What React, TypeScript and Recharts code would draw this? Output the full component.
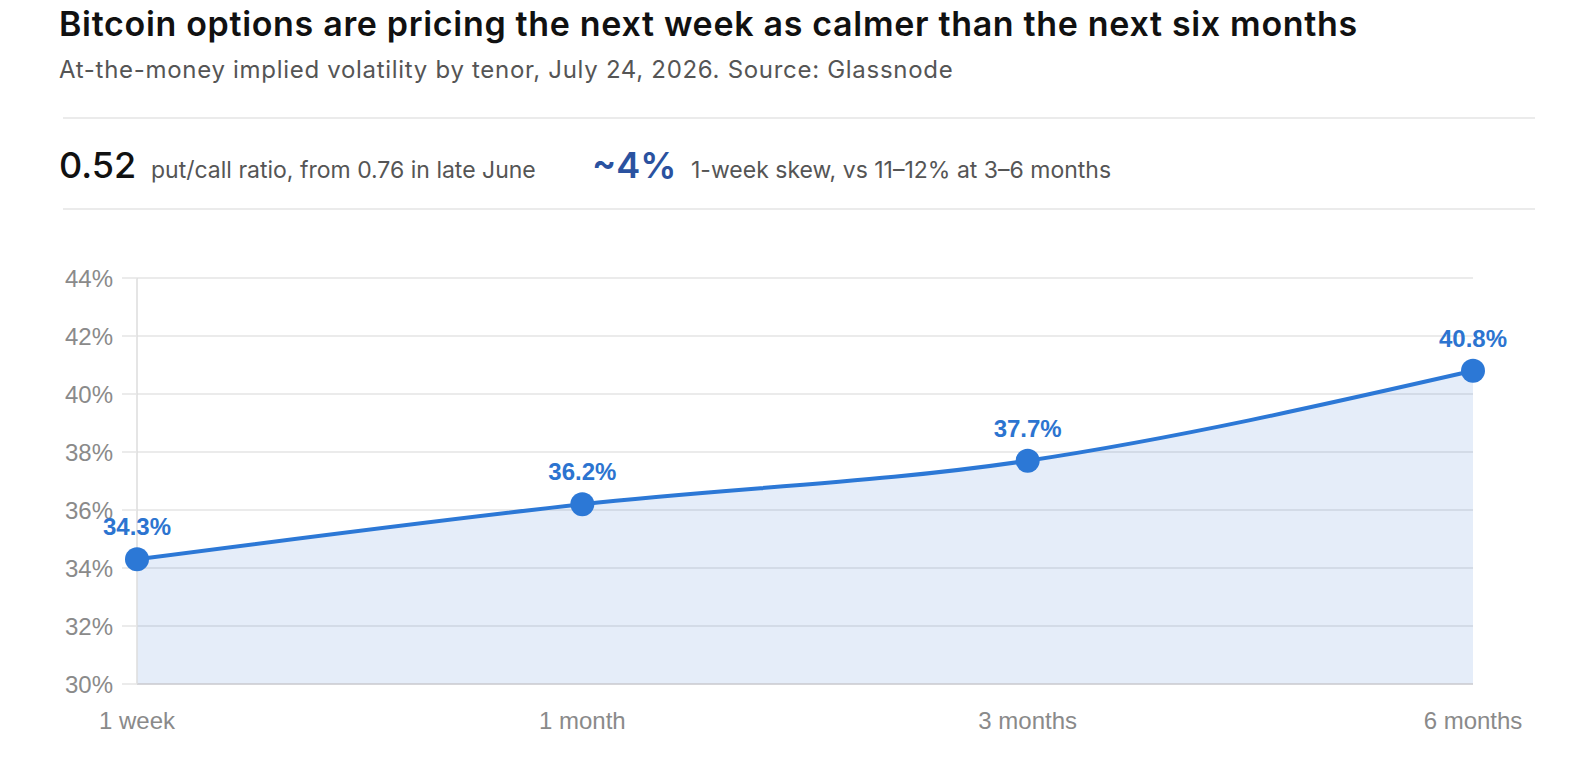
import React from "react";
import { Area, AreaChart, CartesianGrid, LabelList, XAxis, YAxis } from "recharts";

const tenors = ["1 week", "1 month", "3 months", "6 months"];
const impliedVol = [34.3, 36.2, 37.7, 40.8];
const yTicks = [30, 32, 34, 36, 38, 40, 42, 44];

const data = tenors.map((tenor, i) => ({ tenor, iv: impliedVol[i] }));

const sans = "Inter, 'Noto Sans', sans-serif";
const axisFont = "'Liberation Sans', Arial, sans-serif";
const blue = "#2c78d6";

function Header() {
  return (
    <svg width={1596} height={230} style={{ position: "absolute", left: 0, top: 0 }}>
      <text x={59} y={36} fontFamily={sans} fontSize={34} fontWeight={600} letterSpacing={0.68} fill="#111">
        Bitcoin options are pricing the next week as calmer than the next six months
      </text>
      <text x={59} y={78} fontFamily={sans} fontSize={24} letterSpacing={0.7} fill="#555">
        At-the-money implied volatility by tenor, July 24, 2026. Source: Glassnode
      </text>
      <line x1={63} x2={1535} y1={118} y2={118} stroke="#e4e4e4" strokeWidth={1.5} />
      <text x={59} y={178} fontFamily={sans} fontSize={36} fontWeight={500} fill="#111">
        0.52
      </text>
      <text x={151} y={178} fontFamily={sans} fontSize={23} fill="#555">
        put/call ratio, from 0.76 in late June
      </text>
      <text x={592} y={178} fontFamily={sans} fontSize={36} fontWeight={600} fill="#2a52a0">
        ~4%
      </text>
      <text x={691} y={178} fontFamily={sans} fontSize={23} fill="#555">
        1-week skew, vs 11–12% at 3–6 months
      </text>
      <line x1={63} x2={1535} y1={209} y2={209} stroke="#e4e4e4" strokeWidth={1.5} />
    </svg>
  );
}

export default function App() {
  return (
    <div style={{ position: "fixed", left: 0, top: 0, width: 1596, height: 768, background: "#fff" }}>
      <Header />
      <div style={{ position: "absolute", left: 0, top: 230 }}>
        <AreaChart width={1596} height={538} data={data} margin={{ top: 48, right: 123, bottom: 44, left: 0 }}>
          <CartesianGrid vertical={false} stroke="#e4e4e4" strokeWidth={1.5} />
          <XAxis
            dataKey="tenor"
            scale="point"
            padding={{ left: 0, right: 0 }}
            height={40}
            axisLine={{ stroke: "#cfcfd4", strokeWidth: 1.5 }}
            tickLine={false}
            tickSize={0}
            tickMargin={28}
            tick={{ fill: "#8a8a8a", fontSize: 24, fontFamily: axisFont }}
          />
          <YAxis
            width={137}
            domain={[30, 44]}
            ticks={yTicks}
            tickFormatter={(v) => `${v}%`}
            axisLine={{ stroke: "#dcdcdc", strokeWidth: 1.5 }}
            tickLine={{ stroke: "#e4e4e4", strokeWidth: 1.5 }}
            tickSize={15}
            tickMargin={9}
            tick={{ fill: "#8a8a8a", fontSize: 24, fontFamily: axisFont }}
          />
          <Area
            type="monotone"
            dataKey="iv"
            stroke={blue}
            strokeWidth={4}
            fill="#2c6fd0"
            fillOpacity={0.12}
            dot={{ r: 12, fill: blue, stroke: blue, strokeWidth: 0, fillOpacity: 1 }}
            activeDot={false}
            isAnimationActive={false}
          >
            <LabelList
              dataKey="iv"
              position="top"
              offset={24}
              formatter={(v) => `${v}%`}
              fill="#2c74d0"
              fontSize={24}
              fontWeight={700}
              fontFamily={axisFont}
            />
          </Area>
        </AreaChart>
      </div>
    </div>
  );
}
